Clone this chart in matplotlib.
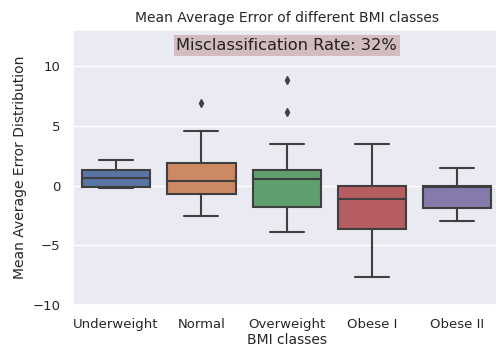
import matplotlib
matplotlib.use('Agg')
import matplotlib.pyplot as plt
import seaborn as sns

# box statistics
classes = ['Underweight', 'Normal', 'Overweight', 'Obese I', 'Obese II']
q1 = [-0.1, -0.75, -1.77, -3.65, -1.9]
medians = [0.6, 0.41, 0.58, -1.1, -0.1]
q3 = [1.33, 1.88, 1.33, -0.05, 0.0]
whislo = [-0.25, -2.54, -3.9, -7.65, -2.95]
whishi = [2.15, 4.55, 3.48, 3.48, 1.5]
fliers = [[], [6.9], [8.78, 6.16], [], []]

sns.set_theme(style='darkgrid')
fig = plt.figure(figsize=(4.96, 3.52), dpi=100)
ax = fig.add_axes([0.148, 0.133, 0.86, 0.782])

stats = []
for i in range(len(classes)):
    stats.append({'label': classes[i], 'q1': q1[i], 'med': medians[i], 'q3': q3[i],
                  'whislo': whislo[i], 'whishi': whishi[i], 'fliers': fliers[i]})

palette = [sns.desaturate(c, 0.75) for c in sns.color_palette('deep', 5)]
gray = '#3f3f3f'
bp = ax.bxp(stats, positions=range(len(classes)), widths=0.8, patch_artist=True,
            boxprops=dict(edgecolor=gray, linewidth=1.5),
            medianprops=dict(color=gray, linewidth=1.5),
            whiskerprops=dict(color=gray, linewidth=1.5),
            capprops=dict(color=gray, linewidth=1.5),
            flierprops=dict(marker='d', markerfacecolor=gray, markeredgecolor=gray,
                            markersize=4))
for patch, color in zip(bp['boxes'], palette):
    patch.set_facecolor(color)

ax.set_xlim(-0.5, 4.5)
ax.set_ylim(-10, 13)
ax.set_yticks([-10, -5, 0, 5, 10])
ax.xaxis.grid(False)
ax.tick_params(labelsize=9.5)
ax.set_xlabel('BMI classes', fontsize=10, labelpad=1)
ax.set_ylabel('Mean Average Error Distribution', fontsize=10)
ax.set_title('Mean Average Error of different BMI classes', fontsize=10)
ax.text(2.0, 11.7, 'Misclassification Rate: 32%', ha='center', va='center', fontsize=11.7,
        color='#222222',
        bbox=dict(facecolor='rosybrown', alpha=0.5, edgecolor='none', pad=2))

fig.savefig('out.png', dpi=100)
